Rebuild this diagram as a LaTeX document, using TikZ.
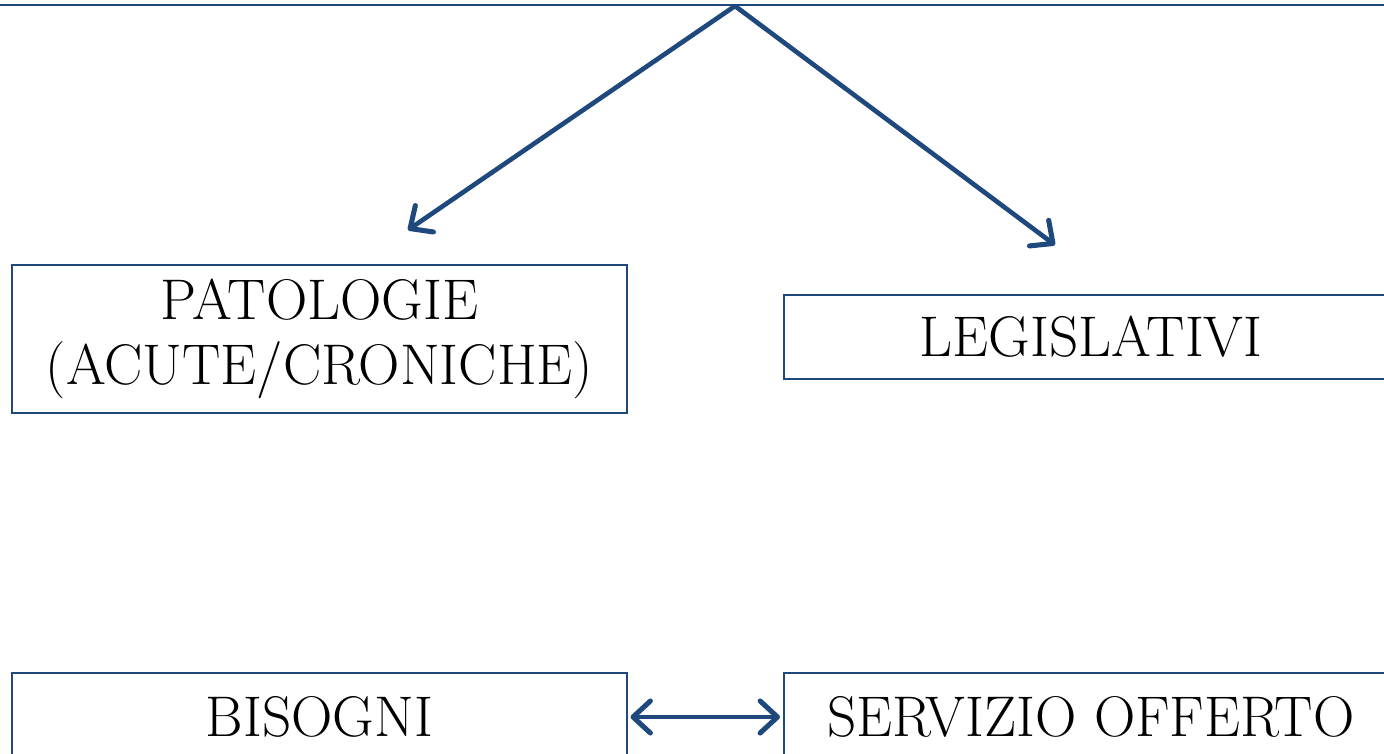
\documentclass[tikz,border=0pt]{standalone}
\usetikzlibrary{arrows.meta}
\definecolor{darkblue}{RGB}{31,73,125}
\tikzset{every picture/.style={line width=0.75pt}}
\tikzset{
  catbox/.style={draw=darkblue, line width=1.5pt, minimum width=461pt, minimum height=111pt, align=center, inner sep=0pt, font=\fontsize{43}{49}\selectfont},
  catlabel/.style={inner sep=0pt, font=\fontsize{43}{49}\selectfont},
  bluearrow/.style={draw=darkblue, line width=3.5pt, -{Straight Barb[length=13pt, width=24pt, line width=3.8pt, round]}},
}

\begin{document}
\begin{tikzpicture}[x=0.75pt,y=0.75pt,yscale=-1,xscale=1]
\clip (0,0) rectangle (1384,753);
\path[fill=white] (0,0) rectangle (1384,753);

%Straight Lines [id:top]
\coordinate (topl) at (0,5);
\coordinate (topr) at (1384,5);
\draw [draw=darkblue, line width=1.9pt] (topl) -- (topr);
\coordinate (apex) at (735,6);
\coordinate (endpat) at (408,230);
\coordinate (endleg) at (1055,245);

% Text Node
\node [catbox] (patologie) at (319.5,339) {PATOLOGIE\\(ACUTE/CRONICHE)};
% Text Node
\node [catbox, minimum height=63pt] (legislativi) at (1091,337) {LEGISLATIVI};
% Text Node
\node [catbox, minimum height=82pt] (bisogni) at (319.5,728) {};
\node [catlabel] (bisognitext) at (319.5,717) {BISOGNI};
% Text Node
\node [catbox, minimum height=82pt] (servizio) at (1091,728) {};
\node [catlabel] (serviziotext) at (1091,717) {SERVIZIO OFFERTO};

%Straight Lines [id:arrows]
\draw [bluearrow] (apex) -- (endpat);
\draw [bluearrow] (apex) -- (endleg);
\draw [bluearrow, {Straight Barb[length=13pt, width=24pt, line width=3.8pt, round]}-{Straight Barb[length=13pt, width=24pt, line width=3.8pt, round]}, shorten <=2, shorten >=2] (bisogni.east |- bisognitext) -- (servizio.west |- serviziotext);

\end{tikzpicture}
\end{document}
